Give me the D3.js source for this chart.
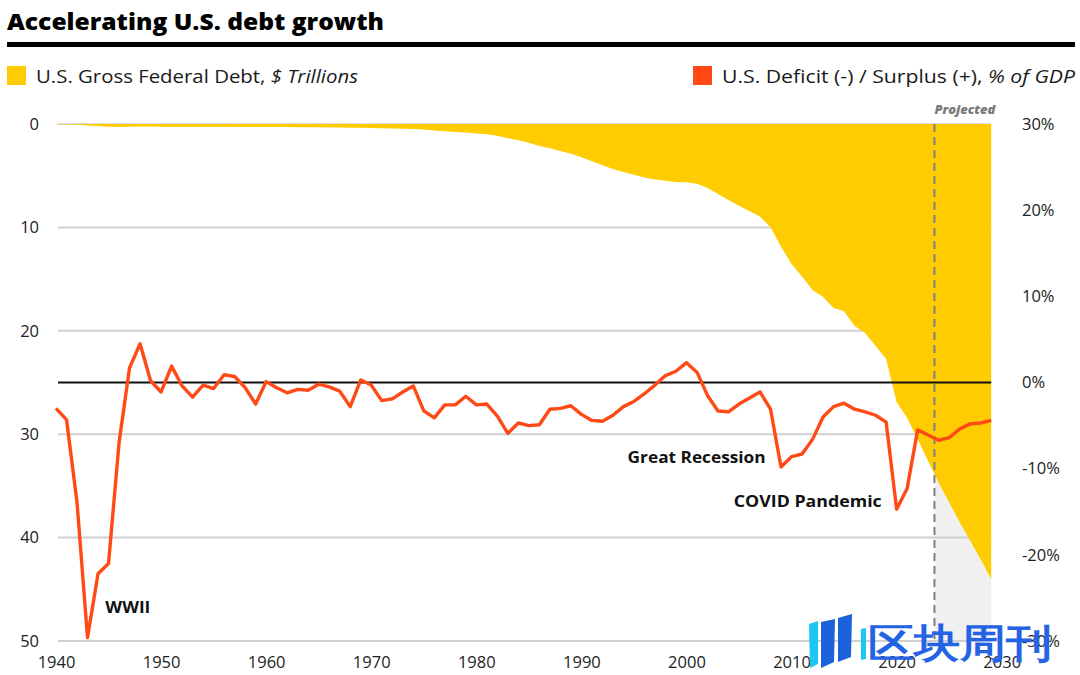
<!DOCTYPE html>
<html>
<head>
<meta charset="utf-8">
<script src="https://cdn.jsdelivr.net/npm/d3@7"></script>
<style>
  html, body { margin: 0; padding: 0; background: #fff; }
  svg { display: block; }
  text { font-family: "Open Sans", "Noto Sans", sans-serif; fill: #1a1a1a; }
</style>
</head>
<body>
<svg id="chart" width="1080" height="675"></svg>
<script>
// ---------------- DATA ----------------
const years = d3.range(1940, 2030); // 1940..2029

const debtTrillions = [
  0.05, 0.06, 0.08, 0.14, 0.20, 0.26, 0.27, 0.26, 0.25, 0.25,   // 1940-49
  0.26, 0.26, 0.26, 0.27, 0.27, 0.27, 0.27, 0.27, 0.28, 0.29,   // 1950-59
  0.29, 0.29, 0.30, 0.31, 0.32, 0.32, 0.33, 0.34, 0.37, 0.37,   // 1960-69
  0.38, 0.41, 0.44, 0.47, 0.48, 0.54, 0.63, 0.71, 0.78, 0.83,   // 1970-79
  0.91, 1.00, 1.14, 1.37, 1.56, 1.82, 2.12, 2.35, 2.60, 2.87,   // 1980-89
  3.21, 3.60, 4.00, 4.35, 4.64, 4.92, 5.18, 5.37, 5.48, 5.61,   // 1990-99
  5.63, 5.77, 6.20, 6.76, 7.35, 7.91, 8.45, 8.95, 9.99, 11.88,  // 2000-09
  13.53, 14.76, 16.05, 16.72, 17.79, 18.12, 19.54, 20.21, 21.46, 22.72, // 2010-19
  26.9, 28.4, 30.5, 32.6, 34.7, 36.6, 38.5, 40.3, 42.1, 44.0    // 2020-29
];

const deficitPctGDP = [
  -3.0, -4.3, -13.9, -29.6, -22.2, -21.0, -7.0, 1.7, 4.5, 0.2,  // 1940-49
  -1.1, 1.9, -0.4, -1.7, -0.3, -0.7, 0.9, 0.7, -0.6, -2.5,      // 1950-59
  0.1, -0.6, -1.2, -0.8, -0.9, -0.2, -0.5, -1.0, -2.8, 0.3,     // 1960-69
  -0.3, -2.1, -1.9, -1.1, -0.4, -3.3, -4.1, -2.6, -2.6, -1.6,   // 1970-79
  -2.6, -2.5, -3.9, -5.9, -4.7, -5.0, -4.9, -3.1, -3.0, -2.7,   // 1980-89
  -3.7, -4.4, -4.5, -3.8, -2.8, -2.2, -1.3, -0.3, 0.8, 1.3,     // 1990-99
  2.3, 1.2, -1.5, -3.3, -3.4, -2.5, -1.8, -1.1, -3.1, -9.8,     // 2000-09
  -8.6, -8.3, -6.6, -4.0, -2.8, -2.4, -3.1, -3.4, -3.8, -4.6,   // 2010-19
  -14.7, -12.3, -5.5, -6.1, -6.7, -6.4, -5.4, -4.8, -4.7, -4.4  // 2020-29
];

const xTickYears = [1940, 1950, 1960, 1970, 1980, 1990, 2000, 2010, 2020, 2030];
const debtTicks = [0, 10, 20, 30, 40, 50];
const pctTicks = [30, 20, 10, 0, -10, -20, -30];
const projectionStart = 2023.6;

const annotations = [
  { label: "WWII", year: 1944.7, pct: -26.8, w: 45 },
  { label: "Great Recession", year: 1994.4, pct: -9.3, w: 138 },
  { label: "COVID Pandemic", year: 2004.5, pct: -14.5, w: 148 }
];

const titleText = "Accelerating U.S. debt growth";
const legendDebt = ["U.S. Gross Federal Debt, ", "$ Trillions"];
const legendDeficit = ["U.S. Deficit (-) / Surplus (+), ", "% of GDP"];

// ---------------- SCALES ----------------
const svg = d3.select("#chart");
const x = d3.scaleLinear().domain([1940, 2030]).range([56, 1001.7]);
const yDebt = d3.scaleLinear().domain([0, 50]).range([124, 641]);
const yPct = d3.scaleLinear().domain([-30, 30]).range([641, 124]);

const YELLOW = "#fecc00";
const ORANGE = "#ff4a17";

const xStart = x(years[0]), xEnd = x(years[years.length - 1]);

// projected background
svg.append("rect")
  .attr("x", x(projectionStart)).attr("y", yDebt(0))
  .attr("width", xEnd - x(projectionStart)).attr("height", yDebt(50) - yDebt(0))
  .attr("fill", "#f0f0f0");

// gridlines
svg.append("g").selectAll("line").data(debtTicks).join("line")
  .attr("x1", xStart + 2).attr("x2", xEnd)
  .attr("y1", d => yDebt(d)).attr("y2", d => yDebt(d))
  .attr("stroke", d => d === 0 ? "#dedede" : "#cfcfcf")
  .attr("stroke-width", 2);

// debt area (hanging down from 0)
const debtData = years.map((yr, i) => ({ yr, v: debtTrillions[i] }));
svg.append("path")
  .datum(debtData)
  .attr("d", d3.area().x(d => x(d.yr)).y0(yDebt(0)).y1(d => yDebt(d.v)))
  .attr("fill", YELLOW);

// zero % line
svg.append("line")
  .attr("x1", xStart + 2).attr("x2", xEnd)
  .attr("y1", yPct(0)).attr("y2", yPct(0))
  .attr("stroke", "#111").attr("stroke-width", 2.2);

// projection dashed line
svg.append("line")
  .attr("x1", x(projectionStart)).attr("x2", x(projectionStart))
  .attr("y1", yDebt(0)).attr("y2", yDebt(50))
  .attr("stroke", "#808080").attr("stroke-width", 2)
  .attr("stroke-dasharray", "8,5");

svg.append("text")
  .attr("x", x(projectionStart)).attr("y", 114)
  .attr("font-size", 13).attr("font-weight", 800).attr("font-style", "italic")
  .attr("textLength", 61).attr("lengthAdjust", "spacingAndGlyphs")
  .style("fill", "#7a7a7a")
  .text("Projected");

// deficit line
const defData = years.map((yr, i) => ({ yr, v: deficitPctGDP[i] }));
svg.append("path")
  .datum(defData)
  .attr("d", d3.line().x(d => x(d.yr)).y(d => yPct(d.v)))
  .attr("fill", "none").attr("stroke", ORANGE)
  .attr("stroke-width", 3.4).attr("stroke-linejoin", "round");

// annotations
svg.append("g").selectAll("text").data(annotations).join("text")
  .attr("x", d => x(d.year)).attr("y", d => yPct(d.pct))
  .attr("font-size", 16.5).attr("font-weight", 700)
  .attr("textLength", d => d.w).attr("lengthAdjust", "spacingAndGlyphs")
  .style("fill", "#111")
  .text(d => d.label);

// axes
const leftAxis = svg.append("g").attr("transform", "translate(39,0)")
  .call(d3.axisLeft(yDebt).tickValues(debtTicks).tickSize(0).tickPadding(0));
const rightAxis = svg.append("g").attr("transform", "translate(1022,0)")
  .call(d3.axisRight(yPct).tickValues(pctTicks).tickSize(0).tickPadding(0).tickFormat(d => d + "%"));
const bottomAxis = svg.append("g").attr("transform", "translate(0,645)")
  .call(d3.axisBottom(x).tickValues(xTickYears).tickSize(0).tickPadding(11).tickFormat(d3.format("d")));
[leftAxis, rightAxis, bottomAxis].forEach(g => {
  g.select(".domain").remove();
  g.selectAll("text").attr("font-size", 16.5).attr("font-family", "'Open Sans', sans-serif").style("fill", "#222");
});

// title
svg.append("text")
  .attr("x", 7).attr("y", 30)
  .attr("font-size", 23).attr("font-weight", 900)
  .attr("font-family", "Inter, Lato, sans-serif")
  .attr("textLength", 377).attr("lengthAdjust", "spacingAndGlyphs")
  .style("fill", "#000")
  .text(titleText);
svg.append("rect").attr("x", 7).attr("y", 42).attr("width", 1068).attr("height", 5).attr("fill", "#000");

// legend
svg.append("rect").attr("x", 7).attr("y", 66).attr("width", 19).attr("height", 19).attr("fill", YELLOW);
const lt1 = svg.append("text").attr("x", 36).attr("y", 83).attr("font-size", 18)
  .attr("textLength", 322).attr("lengthAdjust", "spacingAndGlyphs");
lt1.append("tspan").text(legendDebt[0]);
lt1.append("tspan").attr("font-style", "italic").text(legendDebt[1]);

svg.append("rect").attr("x", 693).attr("y", 66).attr("width", 19).attr("height", 19).attr("fill", ORANGE);
const lt2 = svg.append("text").attr("x", 722).attr("y", 83).attr("font-size", 18)
  .attr("textLength", 353).attr("lengthAdjust", "spacingAndGlyphs");
lt2.append("tspan").text(legendDeficit[0]);
lt2.append("tspan").attr("font-style", "italic").text(legendDeficit[1]);

// watermark
const wm = svg.append("g");
wm.append("path").attr("d", "M809,624 L818,621 L818,664 L810,668 Z").attr("fill", "#1ec6f2");
wm.append("path").attr("d", "M821,622 L835,619 L834,662 L821,668 Z").attr("fill", "#1b62dc");
wm.append("path").attr("d", "M838,618 L852,614 L851,657 L838,662 Z").attr("fill", "#1b62dc");
wm.append("path").attr("d", "M861,629 L866,628 L866,659 L861,660 Z").attr("fill", "#1ec6f2");
wm.append("text")
  .attr("x", 868).attr("y", 657)
  .attr("font-family", "'Noto Sans CJK SC', sans-serif")
  .attr("font-size", 40).attr("font-weight", 700)
  .attr("textLength", 184).attr("lengthAdjust", "spacingAndGlyphs")
  .style("fill", "#2463e3")
  .text("区块周刊");
</script>
</body>
</html>
